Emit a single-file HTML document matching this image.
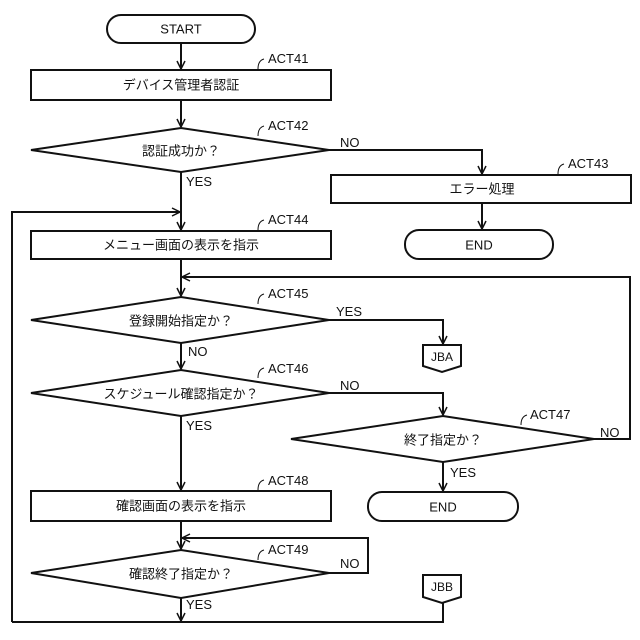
<!DOCTYPE html>
<html><head><meta charset="utf-8"><style>body{margin:0;background:#fff}svg{display:block}text{font-family:"Liberation Sans","Noto Sans CJK JP",sans-serif;font-size:13px;fill:#111}.c{text-anchor:middle;dominant-baseline:central}</style></head><body>
<svg width="640" height="640" viewBox="0 0 640 640" xmlns="http://www.w3.org/2000/svg">
<defs><marker id="a" markerWidth="10" markerHeight="10" refX="9" refY="5" orient="auto" markerUnits="userSpaceOnUse"><path d="M1,1 L9,5 L1,9" fill="none" stroke="#111" stroke-width="1.5"/></marker></defs>
<g fill="none" stroke="#111" stroke-width="2">
<rect x="107" y="15" width="148" height="28" rx="14"/>
<rect x="31" y="70" width="300" height="30"/>
<polygon points="31,150 181,128 329,150 181,172"/>
<rect x="331" y="175" width="300" height="28"/>
<rect x="405" y="230" width="148" height="29" rx="14"/>
<rect x="31" y="231" width="300" height="28"/>
<polygon points="31,320 181,297 329,320 181,343"/>
<polygon points="423,345 461,345 461,366 442,372 423,366"/>
<polygon points="31,393 181,370 329,393 181,416"/>
<polygon points="291,439 443,416 594,439 443,462"/>
<rect x="368" y="492" width="150" height="29" rx="14"/>
<rect x="31" y="491" width="300" height="30"/>
<polygon points="31,573 181,550 329,573 181,598"/>
<polygon points="423,575 461,575 461,597 442,603 423,597"/>
<path d="M181,43V69" marker-end="url(#a)"/>
<path d="M181,100V127" marker-end="url(#a)"/>
<path d="M329,150H482V174" marker-end="url(#a)"/>
<path d="M482,203V229" marker-end="url(#a)"/>
<path d="M181,172V230" marker-end="url(#a)"/>
<path d="M12,622V212H180" marker-end="url(#a)"/>
<path d="M181,259V296" marker-end="url(#a)"/>
<path d="M594,439H630V277H182" marker-end="url(#a)"/>
<path d="M329,320H443V344" marker-end="url(#a)"/>
<path d="M181,343V369" marker-end="url(#a)"/>
<path d="M329,393H443V415" marker-end="url(#a)"/>
<path d="M443,462V491" marker-end="url(#a)"/>
<path d="M181,416V490" marker-end="url(#a)"/>
<path d="M181,521V549" marker-end="url(#a)"/>
<path d="M329,573H368V538H182" marker-end="url(#a)"/>
<path d="M181,598V621" marker-end="url(#a)"/>
<path d="M12,622H443V603"/>
</g>
<g fill="none" stroke="#111" stroke-width="1">
<path d="M258,69c0,-6 2,-9 6,-10"/><path d="M258,136c0,-6 2,-9 6,-10"/><path d="M558,174c0,-6 2,-9 6,-10"/>
<path d="M258,230c0,-6 2,-9 6,-10"/><path d="M258,304c0,-6 2,-9 6,-10"/><path d="M258,378c0,-6 2,-9 6,-10"/>
<path d="M521,425c0,-6 2,-9 6,-10"/><path d="M258,490c0,-6 2,-9 6,-10"/><path d="M258,560c0,-6 2,-9 6,-10"/>
</g>
<text class="c" x="181" y="29">START</text>
<text class="c" x="181" y="85">デバイス管理者認証</text>
<text class="c" x="181" y="151">認証成功か？</text>
<text class="c" x="482" y="189">エラー処理</text>
<text class="c" x="479" y="245">END</text>
<text class="c" x="181" y="245">メニュー画面の表示を指示</text>
<text class="c" x="181" y="321">登録開始指定か？</text>
<text class="c" x="442" y="357" style="font-size:12px">JBA</text>
<text class="c" x="181" y="394">スケジュール確認指定か？</text>
<text class="c" x="443" y="440">終了指定か？</text>
<text class="c" x="443" y="507">END</text>
<text class="c" x="181" y="506">確認画面の表示を指示</text>
<text class="c" x="181" y="574">確認終了指定か？</text>
<text class="c" x="442" y="587" style="font-size:12px">JBB</text>
<text x="268" y="63">ACT41</text><text x="268" y="130">ACT42</text><text x="568" y="168">ACT43</text>
<text x="268" y="224">ACT44</text><text x="268" y="298">ACT45</text><text x="268" y="373">ACT46</text>
<text x="530" y="419">ACT47</text><text x="268" y="485">ACT48</text><text x="268" y="554">ACT49</text>
<g style="font-size:12px">
<text x="340" y="147">NO</text><text x="186" y="186">YES</text>
<text x="336" y="316">YES</text><text x="188" y="356">NO</text>
<text x="340" y="390">NO</text><text x="186" y="430">YES</text>
<text x="600" y="437">NO</text><text x="450" y="477">YES</text>
<text x="340" y="568">NO</text><text x="186" y="609">YES</text>
</g>
</svg>
</body></html>
